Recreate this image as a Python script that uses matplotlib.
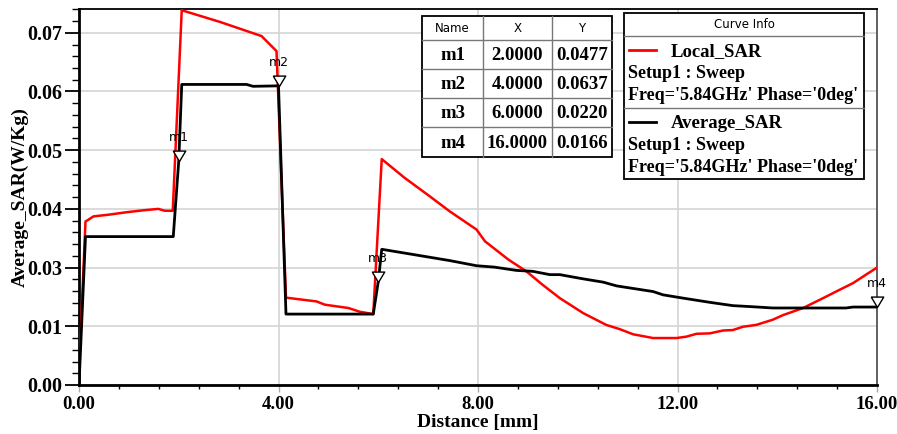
import matplotlib
matplotlib.use("Agg")
import matplotlib.pyplot as plt
from matplotlib.lines import Line2D
from matplotlib.patches import Rectangle

# Local_SAR trace (red)
local_x = [0.0, 0.13, 0.29, 0.62, 0.96, 1.29, 1.59, 1.72, 1.88, 2.06, 2.83, 3.66, 3.96,
           4.15, 4.76, 4.93, 5.40, 5.63, 5.90, 6.07, 6.53, 7.03, 7.43, 7.97, 8.14, 8.61,
           8.97, 9.30, 9.64, 10.11, 10.57, 10.84, 11.11, 11.51, 11.98, 12.18, 12.38,
           12.65, 12.91, 13.11, 13.31, 13.58, 13.91, 14.12, 14.52, 14.92, 15.18, 15.52,
           15.78, 16.0]
local_y = [0.0025, 0.0348, 0.0359, 0.0363, 0.0368, 0.0372, 0.0375, 0.0371, 0.0371, 0.0798,
           0.0773, 0.0743, 0.0711, 0.0186, 0.0178, 0.0171, 0.0164, 0.0156, 0.0151, 0.0481,
           0.0441, 0.0402, 0.0370, 0.0331, 0.0306, 0.0267, 0.0242, 0.0213, 0.0185, 0.0153,
           0.0128, 0.0119, 0.0108, 0.0100, 0.0100, 0.0103, 0.0109, 0.0110, 0.0116, 0.0117,
           0.0124, 0.0128, 0.0139, 0.0149, 0.0164, 0.0185, 0.0199, 0.0217, 0.0235, 0.0250]

# Average_SAR trace (black)
avg_x = [0.0, 0.13, 1.89, 2.0, 2.06, 3.36, 3.49, 4.0, 4.15, 5.90, 6.0, 6.07, 7.43, 7.97,
         8.33, 8.77, 9.10, 9.44, 9.64, 10.11, 10.51, 10.78, 11.51, 11.71, 12.11, 12.65,
         13.11, 13.45, 13.91, 14.45, 15.38, 15.52, 16.0]
avg_y = [0.0, 0.0316, 0.0316, 0.0477, 0.0640, 0.0640, 0.0636, 0.0637, 0.0151, 0.0151,
         0.0220, 0.0289, 0.0265, 0.0254, 0.0251, 0.0244, 0.0242, 0.0235, 0.0235, 0.0226,
         0.0219, 0.0211, 0.0199, 0.0192, 0.0185, 0.0176, 0.0169, 0.0167, 0.0164, 0.0164,
         0.0164, 0.0166, 0.0166]

marker_names = ["m1", "m2", "m3", "m4"]
marker_x = [2.0, 4.0, 6.0, 16.0]
marker_y = [0.0477, 0.0637, 0.0220, 0.0166]

curve_names = ["Local_SAR", "Average_SAR"]
curve_colors = ["#ff0000", "#000000"]
curve_info = ["Setup1 : Sweep", "Freq='5.84GHz' Phase='0deg'"]

x_ticks = [0, 4, 8, 12, 16]
x_ticklabels = ["0.00", "4.00", "8.00", "12.00", "16.00"]
y_ticks = [0, 0.0125, 0.025, 0.0375, 0.05, 0.0625, 0.075]
y_ticklabels = ["0.00", "0.01", "0.03", "0.04", "0.05", "0.06", "0.07"]

W, H = 897, 434
serif = "Liberation Serif"


def px(x, y):
    # pixel position -> figure fraction
    return x / W, 1 - y / H


fig = plt.figure(figsize=(W / 100, H / 100), dpi=100)
ax = fig.add_axes([79 / W, 1 - 385 / H, (877 - 79) / W, (385 - 9.3) / H])

ax.plot(local_x, local_y, color=curve_colors[0], lw=1.8, zorder=3)
ax.plot(avg_x, avg_y, color=curve_colors[1], lw=2.0, zorder=3)

# down-pointing triangle with its tip on the point
tri = [(-0.6, 1.0), (0.6, 1.0), (0.0, 0.0), (-0.6, 1.0)]
for name, mx, my in zip(marker_names, marker_x, marker_y):
    ax.plot(mx, my, marker=tri, ms=15, mfc="white", mec="black", mew=1.0,
            zorder=5, clip_on=False)
    ax.annotate(name, (mx, my), xytext=(0, 17), textcoords="offset points",
                ha="center", va="center", fontsize=9, family="DejaVu Sans",
                zorder=6)

ax.set_xlim(0, 16)
ax.set_ylim(0, 0.080)
ax.set_xticks(x_ticks)
ax.set_xticklabels(x_ticklabels)
ax.set_yticks(y_ticks)
ax.set_yticklabels(y_ticklabels)
ax.set_xticks([i * 0.8 for i in range(21)], minor=True)
ax.set_yticks([i * 0.0025 for i in range(33)], minor=True)
ax.grid(True, which="major", color="#d4d4d4", lw=1.2)
ax.set_axisbelow(True)

for lab in ax.get_xticklabels():
    lab.set_family(serif)
    lab.set_fontweight("bold")
    lab.set_fontsize(13.5)
for lab in ax.get_yticklabels():
    lab.set_family(serif)
    lab.set_fontweight("bold")
    lab.set_fontsize(14.5)
ax.tick_params(axis="y", which="major", length=10, width=1.3, pad=2)
ax.tick_params(axis="y", which="minor", length=5, width=1.0)
ax.tick_params(axis="x", which="major", length=5, width=1.0, pad=3, color="#aaaaaa")
ax.tick_params(axis="x", which="minor", length=3, width=1.0)

for side in ["left", "bottom"]:
    ax.spines[side].set_linewidth(2.0)
ax.spines["top"].set_linewidth(1.3)
ax.spines["right"].set_color("#555555")
ax.spines["right"].set_linewidth(1.3)

ax.set_xlabel("Distance [mm]", family=serif, fontweight="bold", fontsize=14)
ax.set_ylabel("Average_SAR(W/Kg)", family=serif, fontweight="bold", fontsize=14)
ax.yaxis.set_label_coords(-0.063, 0.5)
ax.xaxis.set_label_coords(0.5, -0.077)

# marker table
cols = [422, 483, 552, 612]
rows = [16, 40, 69, 98, 127, 157]
fig.patches.append(Rectangle(px(cols[0], rows[-1]), (cols[-1] - cols[0]) / W,
                             (rows[-1] - rows[0]) / H, transform=fig.transFigure,
                             facecolor="white", edgecolor="black", lw=1.3, zorder=10))
for c in cols[1:-1]:
    fig.add_artist(Line2D([c / W, c / W], [1 - rows[0] / H, 1 - rows[-1] / H],
                          color="#777777", lw=1.0, zorder=11))
for r in rows[1:-1]:
    fig.add_artist(Line2D([cols[0] / W, cols[-1] / W], [1 - r / H, 1 - r / H],
                          color="#777777", lw=1.0, zorder=11))
header = ["Name", "X", "Y"]
for i, h in enumerate(header):
    cx = (cols[i] + cols[i + 1]) / 2
    fig.text(*px(cx, (rows[0] + rows[1]) / 2), h, ha="center", va="center",
             fontsize=8.5, family="DejaVu Sans", zorder=12)
for j, name in enumerate(marker_names):
    cy = (rows[j + 1] + rows[j + 2]) / 2
    vals = [name, "%.4f" % marker_x[j], "%.4f" % marker_y[j]]
    for i, v in enumerate(vals):
        cx = (cols[i] + cols[i + 1]) / 2
        fig.text(*px(cx, cy + 1), v, ha="center", va="center", fontsize=13.5,
                 family=serif, fontweight="bold", zorder=12)

# curve info box
lx0, lx1 = 624, 864
fig.patches.append(Rectangle(px(lx0, 179), (lx1 - lx0) / W, (179 - 12.7) / H,
                             transform=fig.transFigure, facecolor="white",
                             edgecolor="black", lw=1.3, zorder=10))
for r in [36, 107.5]:
    fig.add_artist(Line2D([lx0 / W, lx1 / W], [1 - r / H, 1 - r / H],
                          color="#777777", lw=1.0, zorder=11))
fig.text(*px((lx0 + lx1) / 2, 24), "Curve Info", ha="center", va="center",
         fontsize=8.5, family="DejaVu Sans", zorder=12)
for k, (name, col) in enumerate(zip(curve_names, curve_colors)):
    y0 = 50 + k * 72
    fig.add_artist(Line2D([629 / W, 656 / W], [1 - y0 / H, 1 - y0 / H],
                          color=col, lw=2.0, zorder=12))
    fig.text(*px(671, y0 + 2), name, ha="left", va="center", fontsize=13.5,
             family=serif, fontweight="bold", zorder=12)
    for m, line in enumerate(curve_info):
        fig.text(*px(628, y0 + 24 + 22 * m), line, ha="left", va="center",
                 fontsize=13, family=serif, fontweight="bold", zorder=12)

fig.savefig("out.png", dpi=100)
